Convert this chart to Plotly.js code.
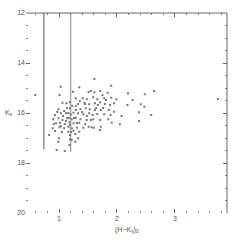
<!DOCTYPE html>
<html><head><meta charset="utf-8">
<script src="https://cdn.plot.ly/plotly-3.0.1.min.js"></script>
<style>html,body{margin:0;padding:0;background:#fff}#c{width:240px;height:240px}</style>
</head><body><div id="c"></div>
<script>
const colorHK = [1.03,1.35,1.90,1.55,1.51,1.61,1.71,1.75,1.84,2.19,1.01,1.29,1.41,1.48,1.59,1.66,1.78,1.90,1.99,1.06,1.13,1.23,1.33,1.44,1.52,1.62,1.71,1.79,1.88,1.95,2.18,0.99,1.19,1.29,1.37,1.46,1.53,1.64,1.72,1.86,1.95,2.38,0.93,1.03,1.12,1.20,1.25,1.33,1.42,1.52,1.58,1.66,1.78,1.89,2.08,0.90,0.99,1.06,1.14,1.22,1.29,1.37,1.48,1.59,1.71,1.85,0.95,1.02,1.10,1.18,1.25,1.35,1.45,1.91,2.05,0.89,1.01,1.09,1.16,1.22,1.31,1.42,1.56,1.72,0.93,1.16,1.25,1.35,1.60,1.19,1.28,1.00,1.19,1.33,0.99,1.28,1.18,0.96,1.10,2.64,2.48,2.27,2.41,2.47,2.59,2.38,3.74,0.59,1.61,1.24,0.83,1.51,1.71,1.19,1.21,1.17,1.22,1.16,1.12,1.07,1.03,1.26,1.31,1.09,1.14,0.97,0.91,1.05,1.40,1.48,1.55,1.62,1.67,1.76,1.81,1.45,1.36,1.29,1.19];
const magK = [14.95,14.97,14.91,15.12,15.17,15.17,15.12,15.29,15.19,15.21,15.28,15.41,15.41,15.45,15.37,15.45,15.41,15.39,15.45,15.59,15.61,15.71,15.64,15.59,15.65,15.61,15.57,15.64,15.68,15.61,15.68,15.85,15.81,15.88,15.85,15.81,15.85,15.81,15.88,15.88,15.95,15.97,16.08,16.01,16.01,16.05,15.99,16.01,16.05,16.01,16.08,16.04,16.05,16.08,16.12,16.25,16.21,16.28,16.21,16.25,16.19,16.25,16.28,16.25,16.28,16.25,16.41,16.39,16.44,16.37,16.41,16.39,16.45,16.39,16.45,16.61,16.57,16.61,16.55,16.61,16.59,16.59,16.57,16.55,16.72,16.75,16.71,16.75,16.59,16.88,16.84,17.01,17.05,17.01,17.15,17.15,17.28,17.48,17.52,15.12,15.25,15.48,15.65,15.75,16.08,16.32,15.44,15.28,14.64,15.15,16.88,16.55,16.68,16.48,16.76,16.20,17.08,16.00,16.32,16.12,16.52,16.20,16.40,15.92,15.80,15.96,16.44,16.76,15.96,16.12,16.28,15.88,15.68,15.80,15.48,15.64,15.52,15.72,15.56];
const cutA_x = [0.74, 0.74];
const cutA_y = [12, 17.45];
const cutB_x = [1.20, 1.20];
const cutB_y = [12, 17.55];
const xTicks = [1, 2, 3];
const yTicks = [12, 14, 16, 18, 20];

const traces = [
  {x: cutA_x, y: cutA_y, mode: 'lines', line: {color: '#555', width: 1}, hoverinfo: 'skip'},
  {x: cutB_x, y: cutB_y, mode: 'lines', line: {color: '#aaa', width: 1.5}, hoverinfo: 'skip'},
  {x: colorHK, y: magK, mode: 'markers', marker: {symbol: 'square', size: 2, color: '#777', line: {width: 0}}}
];
const tickFont = {family: 'Liberation Sans, Arial, sans-serif', size: 7, color: '#555'};
const layout = {
  width: 240, height: 240,
  margin: {l: 26, r: 13, t: 13, b: 27},
  paper_bgcolor: '#fff', plot_bgcolor: '#fff',
  showlegend: false,
  xaxis: {range: [0.431, 3.897], tickvals: xTicks, ticktext: xTicks.map(String),
    ticks: 'inside', ticklen: 4, tickcolor: '#666', tickwidth: 1, mirror: 'ticks',
    showline: false, showgrid: false, zeroline: false, tickfont: tickFont,
    minor: {dtick: 0.2, tick0: 0, ticks: 'inside', ticklen: 2, tickcolor: '#888', showgrid: false}},
  yaxis: {range: [20, 12], tickvals: yTicks, ticktext: yTicks.map(String),
    ticks: 'inside', ticklen: 4, tickcolor: '#666', tickwidth: 1, mirror: 'ticks',
    showline: false, showgrid: false, zeroline: false, tickfont: tickFont,
    minor: {dtick: 0.5, tick0: 0, ticks: 'inside', ticklen: 2, tickcolor: '#888', showgrid: false}},
  shapes: [
    {type: 'line', xref: 'paper', yref: 'paper', x0: 0, x1: 1, y0: 1, y1: 1, line: {color: '#666', width: 1}},
    {type: 'line', xref: 'paper', yref: 'paper', x0: 1, x1: 1, y0: 0, y1: 1, line: {color: '#666', width: 1}}
  ],
  annotations: [
    {text: 'K<sub>s</sub>', xref: 'paper', yref: 'paper', x: -0.055, y: 0.5, xanchor: 'right', yanchor: 'middle', showarrow: false, font: {family: 'Liberation Sans, Arial, sans-serif', size: 7, color: '#555'}},
    {text: '(H\u2212K<sub>s</sub>)<sub>0</sub>', xref: 'paper', yref: 'paper', x: 0.5, y: -0.055, xanchor: 'center', yanchor: 'top', showarrow: false, font: {family: 'Liberation Sans, Arial, sans-serif', size: 7, color: '#555'}}
  ]
};
Plotly.newPlot('c', traces, layout, {staticPlot: true, displayModeBar: false});
</script>
</body></html>
